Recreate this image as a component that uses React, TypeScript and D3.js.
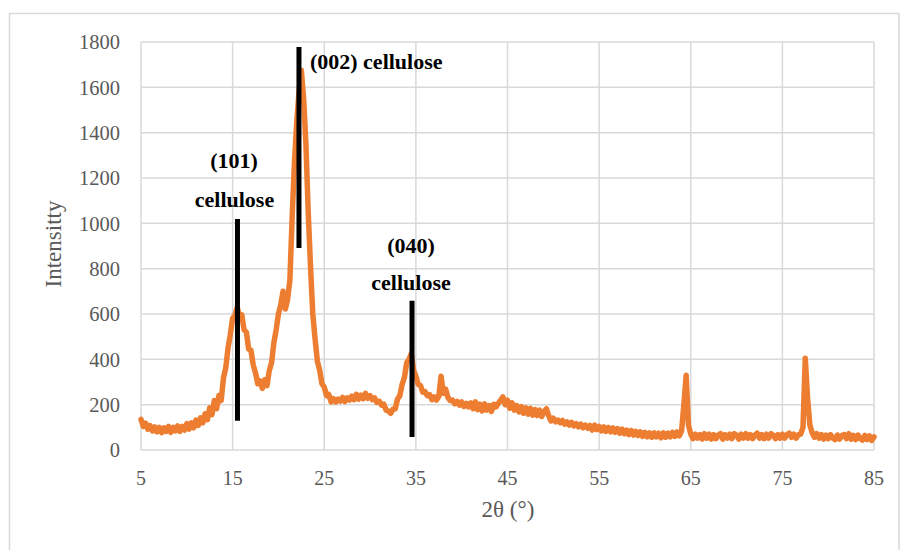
import React from "react";
import * as d3 from "d3";

// 2θ sampled from 5° to 85° every 0.25°
const thetaStart = 5;
const thetaStep = 0.25;
const intensity: number[] = [
  135, 104, 118, 92,
  108, 84, 102, 80,
  100, 76, 98, 82,
  104, 78, 100, 84,
  106, 82, 104, 88,
  116, 92, 120, 98,
  132, 108, 142, 120,
  160, 134, 186, 156,
  218, 182, 240, 218,
  318, 362, 450, 510,
  582, 592, 630, 588,
  596, 530, 520, 445,
  440, 375, 340, 292,
  305, 272, 310, 284,
  350, 385, 472, 530,
  600, 640, 700, 622,
  665, 750, 1030, 1270,
  1450, 1580, 1675, 1550,
  1350, 1050, 810, 600,
  490, 392, 352, 292,
  278, 240, 245, 212,
  226, 212, 224, 216,
  232, 214, 230, 220,
  238, 222, 246, 224,
  242, 226, 250, 228,
  240, 222, 230, 210,
  215, 198, 202, 176,
  172, 162, 180, 182,
  225, 240, 290, 320,
  385, 400, 425, 352,
  325, 290, 285, 255,
  258, 240, 244, 222,
  234, 220, 236, 325,
  250, 268, 232, 218,
  220, 204, 214, 198,
  212, 192, 206, 190,
  208, 182, 212, 178,
  202, 172, 204, 176,
  196, 170, 202, 190,
  206, 220, 234, 200,
  220, 184, 208, 176,
  196, 168, 192, 162,
  186, 158, 184, 154,
  178, 152, 176, 148,
  170, 182, 150, 128,
  140, 124, 132, 120,
  130, 114, 124, 110,
  122, 106, 116, 102,
  114, 98, 110, 96,
  108, 88, 110, 90,
  104, 84, 102, 82,
  100, 80, 98, 78,
  94, 74, 92, 72,
  88, 68, 86, 66,
  82, 64, 80, 60,
  78, 58, 76, 56,
  76, 58, 74, 54,
  76, 56, 74, 58,
  78, 60, 80, 62,
  84, 200, 330, 110,
  70, 50, 70, 52,
  68, 48, 72, 52,
  70, 48, 68, 50,
  66, 72, 48, 68,
  52, 70, 50, 72,
  66, 48, 70, 52,
  72, 52, 68, 50,
  66, 74, 52, 68,
  50, 70, 52, 72,
  66, 50, 68, 52,
  70, 52, 68, 74,
  56, 70, 52, 68,
  70, 100, 405, 230,
  110, 76, 56, 72,
  52, 68, 48, 66,
  50, 68, 52, 46,
  66, 48, 64, 68,
  50, 72, 48, 64,
  46, 66, 50, 44,
  64, 46, 62, 42,
  58,
];

const xTicks = [5, 15, 25, 35, 45, 55, 65, 75, 85];
const yTicks = [0, 200, 400, 600, 800, 1000, 1200, 1400, 1600, 1800];

// peak marker bars: position (2θ), top and bottom intensity
const barTheta = [15.53, 22.24, 34.58];
const barTop = [1019, 1778, 659];
const barBottom = [129, 891, 57];

// annotations: text, 2θ, intensity, anchor
const annText = ["(002) cellulose", "(101)", "cellulose", "(040)", "cellulose"];
const annTheta = [23.44, 15.15, 15.2, 34.47, 34.47];
const annInt = [1681, 1244, 1072, 869, 706];
const annAnchor = ["start", "middle", "middle", "middle", "middle"];

const W = 901;
const H = 550;
const plotL = 141;
const plotR = 874;
const plotT = 42;
const plotB = 450;

export default function App() {
  const x = d3.scaleLinear().domain([5, 85]).range([plotL, plotR]);
  const y = d3.scaleLinear().domain([0, 1800]).range([plotB, plotT]);
  const pts = intensity.map((v, i) => [thetaStart + i * thetaStep, v] as [number, number]);
  const line = d3
    .line<[number, number]>()
    .x((d) => x(d[0]))
    .y((d) => y(d[1]));

  const serif = "'Liberation Serif', 'Times New Roman', serif";
  const grid = "#d9d9d9";

  return (
    <svg
      width={W}
      height={H}
      style={{ position: "absolute", left: 0, top: 0, background: "#fff" }}
      fontFamily={serif}
    >
      <rect x={9.5} y={13.5} width={889.5} height={560} fill="#fff" stroke={grid} strokeWidth={1.5} />
      {yTicks.map((t) => (
        <line key={"gy" + t} x1={plotL} x2={plotR} y1={y(t)} y2={y(t)} stroke={grid} strokeWidth={1.5} />
      ))}
      {xTicks.map((t) => (
        <line key={"gx" + t} x1={x(t)} x2={x(t)} y1={plotT} y2={plotB} stroke={grid} strokeWidth={1.5} />
      ))}
      {yTicks.map((t) => (
        <text
          key={"ty" + t}
          x={120}
          y={y(t)}
          dy="0.35em"
          textAnchor="end"
          fontSize={20.5}
          fill="#595959"
        >
          {t}
        </text>
      ))}
      {xTicks.map((t) => (
        <text key={"tx" + t} x={x(t)} y={485} textAnchor="middle" fontSize={20} fill="#595959">
          {t}
        </text>
      ))}
      <text x={508} y={517} textAnchor="middle" fontSize={23} fill="#595959">
        2θ (°)
      </text>
      <text
        transform={`translate(61,244) rotate(-90)`}
        textAnchor="middle"
        fontSize={23}
        fill="#595959"
      >
        Intensitty
      </text>
      <path
        d={line(pts) || ""}
        fill="none"
        stroke="#ED7D31"
        strokeWidth={5.5}
        strokeLinejoin="round"
        strokeLinecap="round"
      />
      {barTheta.map((b, i) => (
        <line
          key={"bar" + i}
          x1={x(b)}
          x2={x(b)}
          y1={y(barTop[i])}
          y2={y(barBottom[i])}
          stroke="#000"
          strokeWidth={5}
        />
      ))}
      {annText.map((s, i) => (
        <text
          key={"ann" + i}
          x={x(annTheta[i])}
          y={y(annInt[i])}
          textAnchor={annAnchor[i] as any}
          fontSize={22}
          fontWeight="bold"
          fill="#000"
        >
          {s}
        </text>
      ))}
    </svg>
  );
}
